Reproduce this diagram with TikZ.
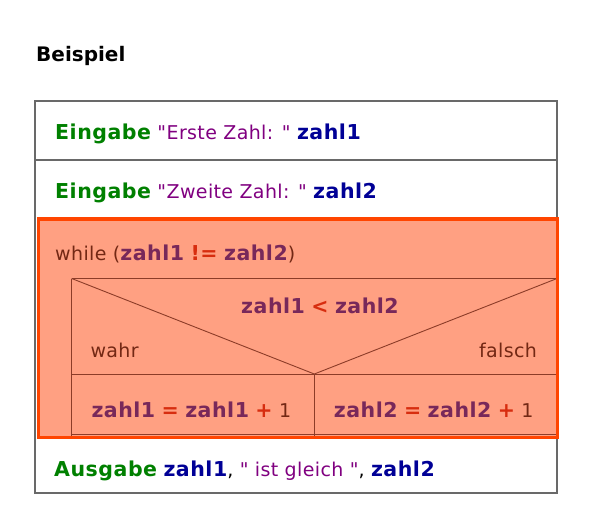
\documentclass[tikz,border=0pt]{standalone}
\usepackage{fontspec}
\newfontfamily\nsfont[LetterSpace=2, BoldFeatures={Scale=1.08, LetterSpace=2.5}]{DejaVu Sans}
\newfontfamily\titlefont{DejaVu Sans}

\definecolor{kwgreen}{RGB}{0,128,0}
\definecolor{strpurple}{RGB}{128,0,128}
\definecolor{varblue}{RGB}{0,0,150}
\definecolor{hlfill}{RGB}{255,160,130}
\definecolor{hlframe}{RGB}{255,69,0}
\definecolor{hltext}{RGB}{115,40,20}
\definecolor{hlvarcol}{RGB}{120,40,90}
\definecolor{hlopcol}{RGB}{215,45,15}
\definecolor{hlline}{RGB}{140,60,40}
\definecolor{boxgray}{RGB}{105,105,105}

\newcommand\kw[1]{\textcolor{kwgreen}{\bfseries #1}}
\newcommand\strg[1]{\textcolor{strpurple}{#1}}
\newcommand\vname[1]{\textcolor{varblue}{\bfseries #1}}
\newcommand\hlv[1]{\textcolor{hlvarcol}{\bfseries #1}}
\newcommand\hlo[1]{\textcolor{hlopcol}{\bfseries #1}}

\tikzset{
  txt/.style={anchor=base west, inner sep=0pt, font=\nsfont\fontsize{19}{21}\selectfont},
  nsline/.style={hlline, line width=0.9pt}
}

\begin{document}
\begin{tikzpicture}[x=1pt, y=-1pt]
    \useasboundingbox (0,0) rectangle (593,530);

    % Titel
    \node[anchor=base west, inner sep=0pt, font=\titlefont\bfseries\fontsize{20}{22}\selectfont] (title) at (36,61.7) {Beispiel};

    % Struktogramm
    \draw[boxgray, line width=1.3pt] (35,101) rectangle (557,493);
    \draw[boxgray, line width=1.3pt] (35,160) -- (557,160);

    % Schleife (markiert)
    \fill[hlfill] (38.3,219) rectangle (557,437.7);
    \coordinate (ifnw) at (71.7,278.5);
    \coordinate (ifne) at (557,278.5);
    \coordinate (ifapex) at (314.3,374);
    \draw[nsline] (ifnw) -- (ifne);
    \draw[nsline] (ifnw) -- (71.7,437.7);
    \draw[nsline] (ifnw) -- (ifapex) -- (ifne);
    \draw[nsline] (71.7,374) -- (557,374);
    \draw[nsline] (ifapex) -- (314.3,437.7);
    \draw[nsline] (71.7,434.5) -- (557,434.5);
    \draw[hlframe, line width=3.2pt] (38.3,219) rectangle (557.3,437.7);

    % Texte
    \node[txt] (in1) at (55,139.3) {\kw{Eingabe} \strg{"Erste Zahl: "} \vname{zahl1}};
    \node[txt] (in2) at (55,198) {\kw{Eingabe} \strg{"Zweite Zahl: "} \vname{zahl2}};
    \node[txt, text=hltext] (loop) at (55,260.7) {while (\hlv{zahl1} \hlo{!=} \hlv{zahl2})};
    \node[txt, anchor=base, text=hltext] (cond) at (320,313) {\hlv{zahl1} \hlo{<} \hlv{zahl2}};
    \node[txt, text=hltext] (yes) at (90.3,357.5) {wahr};
    \node[txt, anchor=base east, text=hltext] (no) at (537.2,357.5) {falsch};
    \node[txt, text=hltext] (thenbr) at (91.3,417) {\hlv{zahl1} \hlo{=} \hlv{zahl1} \hlo{+} 1};
    \node[txt, text=hltext] (elsebr) at (333.7,417) {\hlv{zahl2} \hlo{=} \hlv{zahl2} \hlo{+} 1};
    \node[txt] (out) at (54,476) {\kw{Ausgabe} \vname{zahl1}, \strg{" ist gleich "}, \vname{zahl2}};
\end{tikzpicture}
\end{document}
